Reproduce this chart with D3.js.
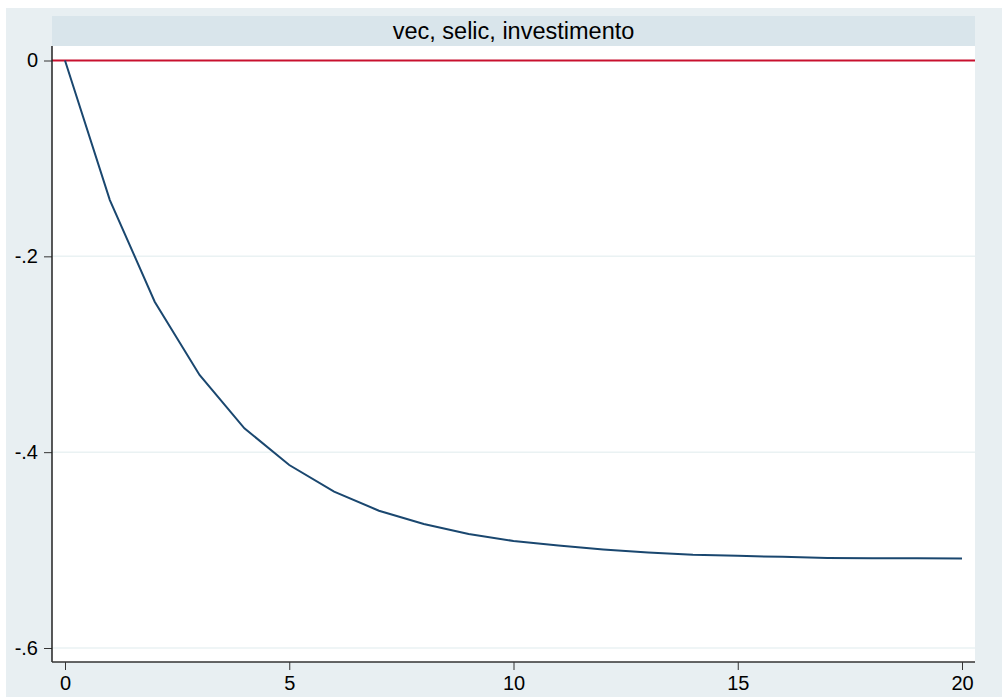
<!DOCTYPE html>
<html>
<head>
<meta charset="utf-8">
<script src="https://cdn.jsdelivr.net/npm/d3@7"></script>
<style>
  body { margin: 0; background: #fff; }
  svg { display: block; font-family: "Liberation Sans", Arial, sans-serif; }
</style>
</head>
<body>
<svg id="chart"></svg>
<script>
// data
const steps = d3.range(0, 21);
const irf = [0, -0.1425, -0.2463, -0.3212, -0.3756, -0.4131, -0.4404, -0.4598, -0.4734, -0.4836,
  -0.4907, -0.4953, -0.4994, -0.5025, -0.5048, -0.5059, -0.5069, -0.5080, -0.5083, -0.5084, -0.5085];
const yTicks = [0, -0.2, -0.4, -0.6];
const xTicks = [0, 5, 10, 15, 20];
const title = "vec, selic, investimento";

const width = 1002, height = 697;
const plot = { left: 52, right: 975, top: 46, bottom: 662 };

const svg = d3.select("#chart").attr("width", width).attr("height", height);

// graph region + title strip
svg.append("rect").attr("x", 6).attr("y", 8).attr("width", width - 6).attr("height", height - 8)
  .attr("fill", "#e8eff2");
svg.append("rect").attr("x", plot.left).attr("y", 16).attr("width", plot.right - plot.left).attr("height", 30)
  .attr("fill", "#d9e5eb");
svg.append("text").attr("x", (plot.left + plot.right) / 2).attr("y", 39)
  .attr("text-anchor", "middle").attr("font-size", 23.5).attr("fill", "#000").text(title);

svg.append("rect").attr("x", plot.left).attr("y", plot.top)
  .attr("width", plot.right - plot.left).attr("height", plot.bottom - plot.top).attr("fill", "#fff");

const x = d3.scaleLinear().domain([0, 20]).range([65, 962]);
const y = d3.scaleLinear().domain([-0.6, 0]).range([648, 60.5]);

// grid
svg.append("g").selectAll("line").data(yTicks.filter(d => d !== 0)).join("line")
  .attr("x1", plot.left).attr("x2", plot.right)
  .attr("y1", d => y(d)).attr("y2", d => y(d))
  .attr("stroke", "#eaf2f3").attr("stroke-width", 1.5);

// zero reference line
svg.append("line").attr("x1", plot.left).attr("x2", plot.right)
  .attr("y1", y(0)).attr("y2", y(0)).attr("stroke", "#c8102e").attr("stroke-width", 2);

// irf line
const line = d3.line().x((d, i) => x(steps[i])).y(d => y(d));
svg.append("path").datum(irf).attr("d", line)
  .attr("fill", "none").attr("stroke", "#1a476f").attr("stroke-width", 2);

// axes
const fmt = d => d === 0 ? "0" : "-" + d3.format(".1f")(-d).replace("0.", ".");
const yAxis = svg.append("g").attr("transform", `translate(${plot.left},0)`)
  .call(d3.axisLeft(y).tickValues(yTicks).tickSize(8).tickPadding(6).tickFormat(fmt));
const xAxis = svg.append("g").attr("transform", `translate(0,${plot.bottom})`)
  .call(d3.axisBottom(x).tickValues(xTicks).tickSize(8).tickPadding(6).tickFormat(d3.format("d")));

[yAxis, xAxis].forEach(g => {
  g.select(".domain").remove();
  g.selectAll(".tick line").attr("stroke", "#333");
  g.selectAll("text").attr("font-size", 20).attr("fill", "#000")
    .attr("font-family", "'Liberation Sans', Arial, sans-serif");
});

svg.append("line").attr("x1", plot.left).attr("x2", plot.left)
  .attr("y1", plot.top).attr("y2", plot.bottom).attr("stroke", "#222").attr("stroke-width", 1.5);
svg.append("line").attr("x1", plot.left).attr("x2", plot.right)
  .attr("y1", plot.bottom).attr("y2", plot.bottom).attr("stroke", "#333").attr("stroke-width", 1.5);
</script>
</body>
</html>
